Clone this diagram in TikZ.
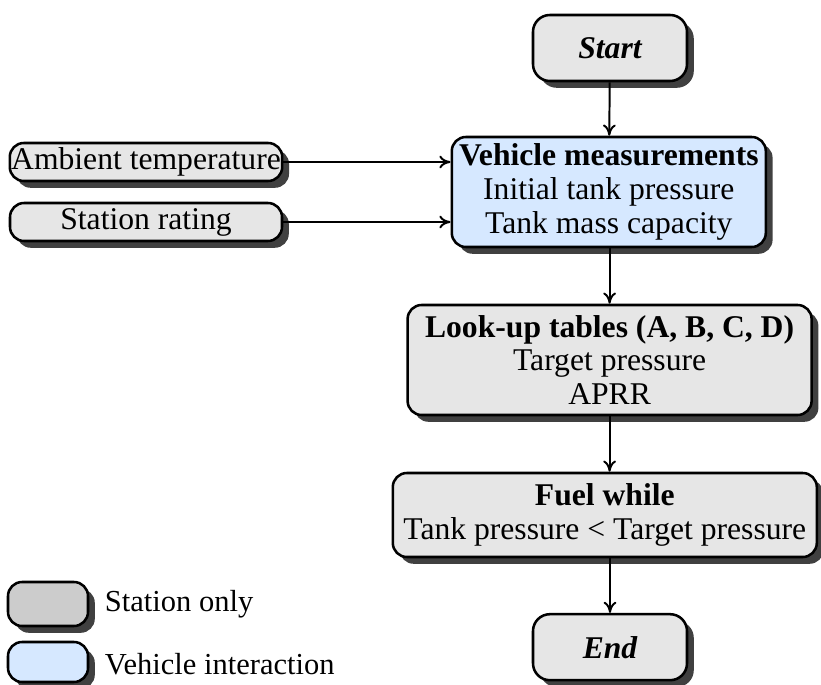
\documentclass[tikz,border=0pt]{standalone}
\usepackage{fontspec}
\setmainfont{Liberation Serif}
\usepackage{tikz}
\usetikzlibrary{positioning,arrows.meta,shadows,calc}
\definecolor{stgray}{RGB}{230,230,230}
\definecolor{keygray}{RGB}{204,204,204}
\definecolor{vehblue}{RGB}{214,232,255}

\begin{document}
\begin{tikzpicture}[
  box/.style={draw, line width=1.8pt, rounded corners=10pt, align=center, inner sep=1pt,
    font=\fontsize{22.5}{24}\selectfont, fill=stgray,
    drop shadow={shadow xshift=0.17cm, shadow yshift=-0.17cm, fill=black!75, opacity=1}},
  st/.style={box, fill=stgray},
  vh/.style={box, fill=vehblue},
  term/.style={st, font=\fontsize{22.5}{24}\selectfont\bfseries\itshape, minimum width=3.85cm, minimum height=1.65cm, rounded corners=12pt},
  inp/.style={st, minimum width=6.8cm, minimum height=0.95cm},
  key/.style={box, minimum width=2cm, minimum height=1.1cm},
  lbl/.style={anchor=west, font=\fontsize{21.7}{24}\selectfont},
  arr/.style={-{To[length=2.8mm,width=3.2mm]}, line width=1.4pt}
]
\useasboundingbox (0,0) rectangle (20.525,-17.125);

\node[term] (start) at (15.25,-1.2) {Start};
\node[vh, minimum width=7.85cm, minimum height=2.75cm] (veh) at (15.22,-4.8)
  {\textbf{Vehicle measurements}\\Initial tank pressure\\Tank mass capacity};
\node[inp] (amb) at (3.65,-4.05) {Ambient temperature};
\node[inp] (rat) at (3.65,-5.55) {Station rating};
\node[st, minimum width=10.1cm, minimum height=2.75cm] (look) at (15.24,-9.0)
  {\textbf{Look-up tables (A, B, C, D)}\\Target pressure\\APRR};
\node[st, minimum width=10.6cm, minimum height=2.1cm] (fuel) at (15.12,-12.875)
  {\textbf{Fuel while}\\Tank pressure < Target pressure};
\node[term] (end) at (15.25,-16.18) {End};

% legend
\node[key, fill=keygray] (k1) at (1.2,-15.1) {};
\node[key, fill=vehblue, minimum height=1.0cm] (k2) at (1.2,-16.55) {};
\node[lbl] (l1) at (2.5,-15.1) {Station only};
\node[lbl] (l2) at (2.5,-16.6) {Vehicle interaction};

\draw[arr] (start) -- (veh);
\draw[arr] (amb) -- (amb -| veh.west);
\draw[arr] (rat) -- (rat -| veh.west);
\draw[arr] (veh.south -| look) -- (look);
\draw[arr] (look.south) -- (look.south |- fuel.north);
\draw[arr] (fuel.south -| end) -- (end);
\end{tikzpicture}
\end{document}
